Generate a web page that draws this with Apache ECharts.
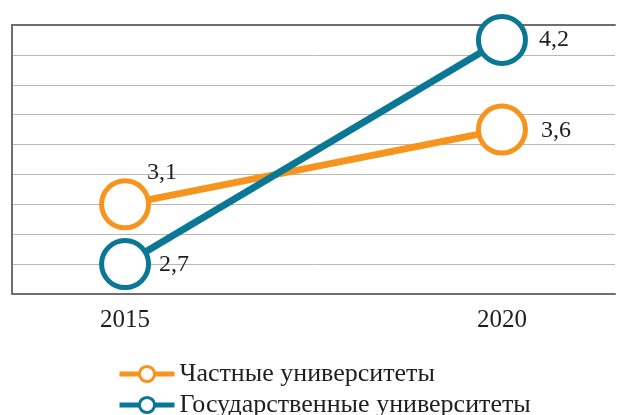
<!DOCTYPE html>
<html>
<head>
<meta charset="utf-8">
<script src="https://cdn.jsdelivr.net/npm/echarts@6/dist/echarts.min.js"></script>
<style>
  html, body { margin: 0; padding: 0; background: #fff; }
  #chart { width: 618px; height: 415px; }
</style>
</head>
<body>
<div id="chart"></div>
<script>
// данные с картинки
const years = [2015, 2020];
const privateUni = [3.1, 3.6];
const stateUni = [2.7, 4.2];
const seriesNames = ['Частные университеты', 'Государственные университеты'];
const colors = ['#F7941D', '#0A7794'];

const FONT = 'Liberation Serif';
const frame = '#6e6e6e';

// смещения подписей (px от центра точки)
const labelOffsets = [
  [[37, -32], [54, 1]],
  [[49, 1], [52, 0]]
];

function makeSeries(name, values, idx) {
  return {
    name: name,
    type: 'line',
    data: values.map((v, i) => ({
      value: [years[i], v],
      label: { offset: labelOffsets[idx][i] }
    })),
    symbol: 'circle',
    symbolSize: 47,
    lineStyle: { color: colors[idx], width: 7 },
    itemStyle: { color: '#fff', borderColor: colors[idx], borderWidth: 5 },
    label: {
      show: true,
      position: 'inside',
      fontFamily: FONT,
      fontSize: 24,
      color: '#1e1e1e',
      formatter: p => String(p.value[1]).replace('.', ',')
    },
    emphasis: { disabled: true },
    animation: false
  };
}

function makeLegend(name, top) {
  return {
    left: 112,
    top: top,
    itemWidth: 55,
    itemHeight: 19,
    textStyle: { fontFamily: FONT, fontSize: 26, color: '#1e1e1e' },
    lineStyle: { width: 5 },
    itemStyle: { borderWidth: 3 },
    selectedMode: false,
    data: [name]
  };
}

const chart = echarts.init(document.getElementById('chart'));

const option = {
  animation: false,
  grid: { left: 12, right: 0, top: 25, bottom: 121 },
  legend: [
    makeLegend(seriesNames[0], 356),
    makeLegend(seriesNames[1], 387)
  ],
  xAxis: [
    {
      type: 'value',
      min: 2013.5,
      max: 2021.5,
      interval: 0.5,
      axisLine: { show: true, lineStyle: { color: frame, width: 2 } },
      axisTick: { show: false },
      splitLine: { show: false },
      axisLabel: {
        margin: 14,
        fontFamily: FONT,
        fontSize: 25,
        color: '#1e1e1e',
        formatter: v => (years.indexOf(v) >= 0 ? String(v) : '')
      }
    },
    {
      type: 'value',
      position: 'top',
      min: 2013.5,
      max: 2021.5,
      interval: 0.5,
      axisLine: { show: true, onZero: false, lineStyle: { color: frame, width: 2 } },
      axisTick: { show: false },
      axisLabel: { show: false },
      splitLine: { show: false }
    }
  ],
  yAxis: {
    type: 'value',
    min: 2.5,
    max: 4.3,
    interval: 0.2,
    axisLine: { show: true, onZero: false, lineStyle: { color: frame, width: 2 } },
    axisTick: { show: false },
    axisLabel: { show: false },
    splitLine: { lineStyle: { color: '#b8b8b8', width: 1 } }
  },
  series: [
    makeSeries(seriesNames[0], privateUni, 0),
    makeSeries(seriesNames[1], stateUni, 1)
  ]
};

chart.setOption(option);
</script>
</body>
</html>
